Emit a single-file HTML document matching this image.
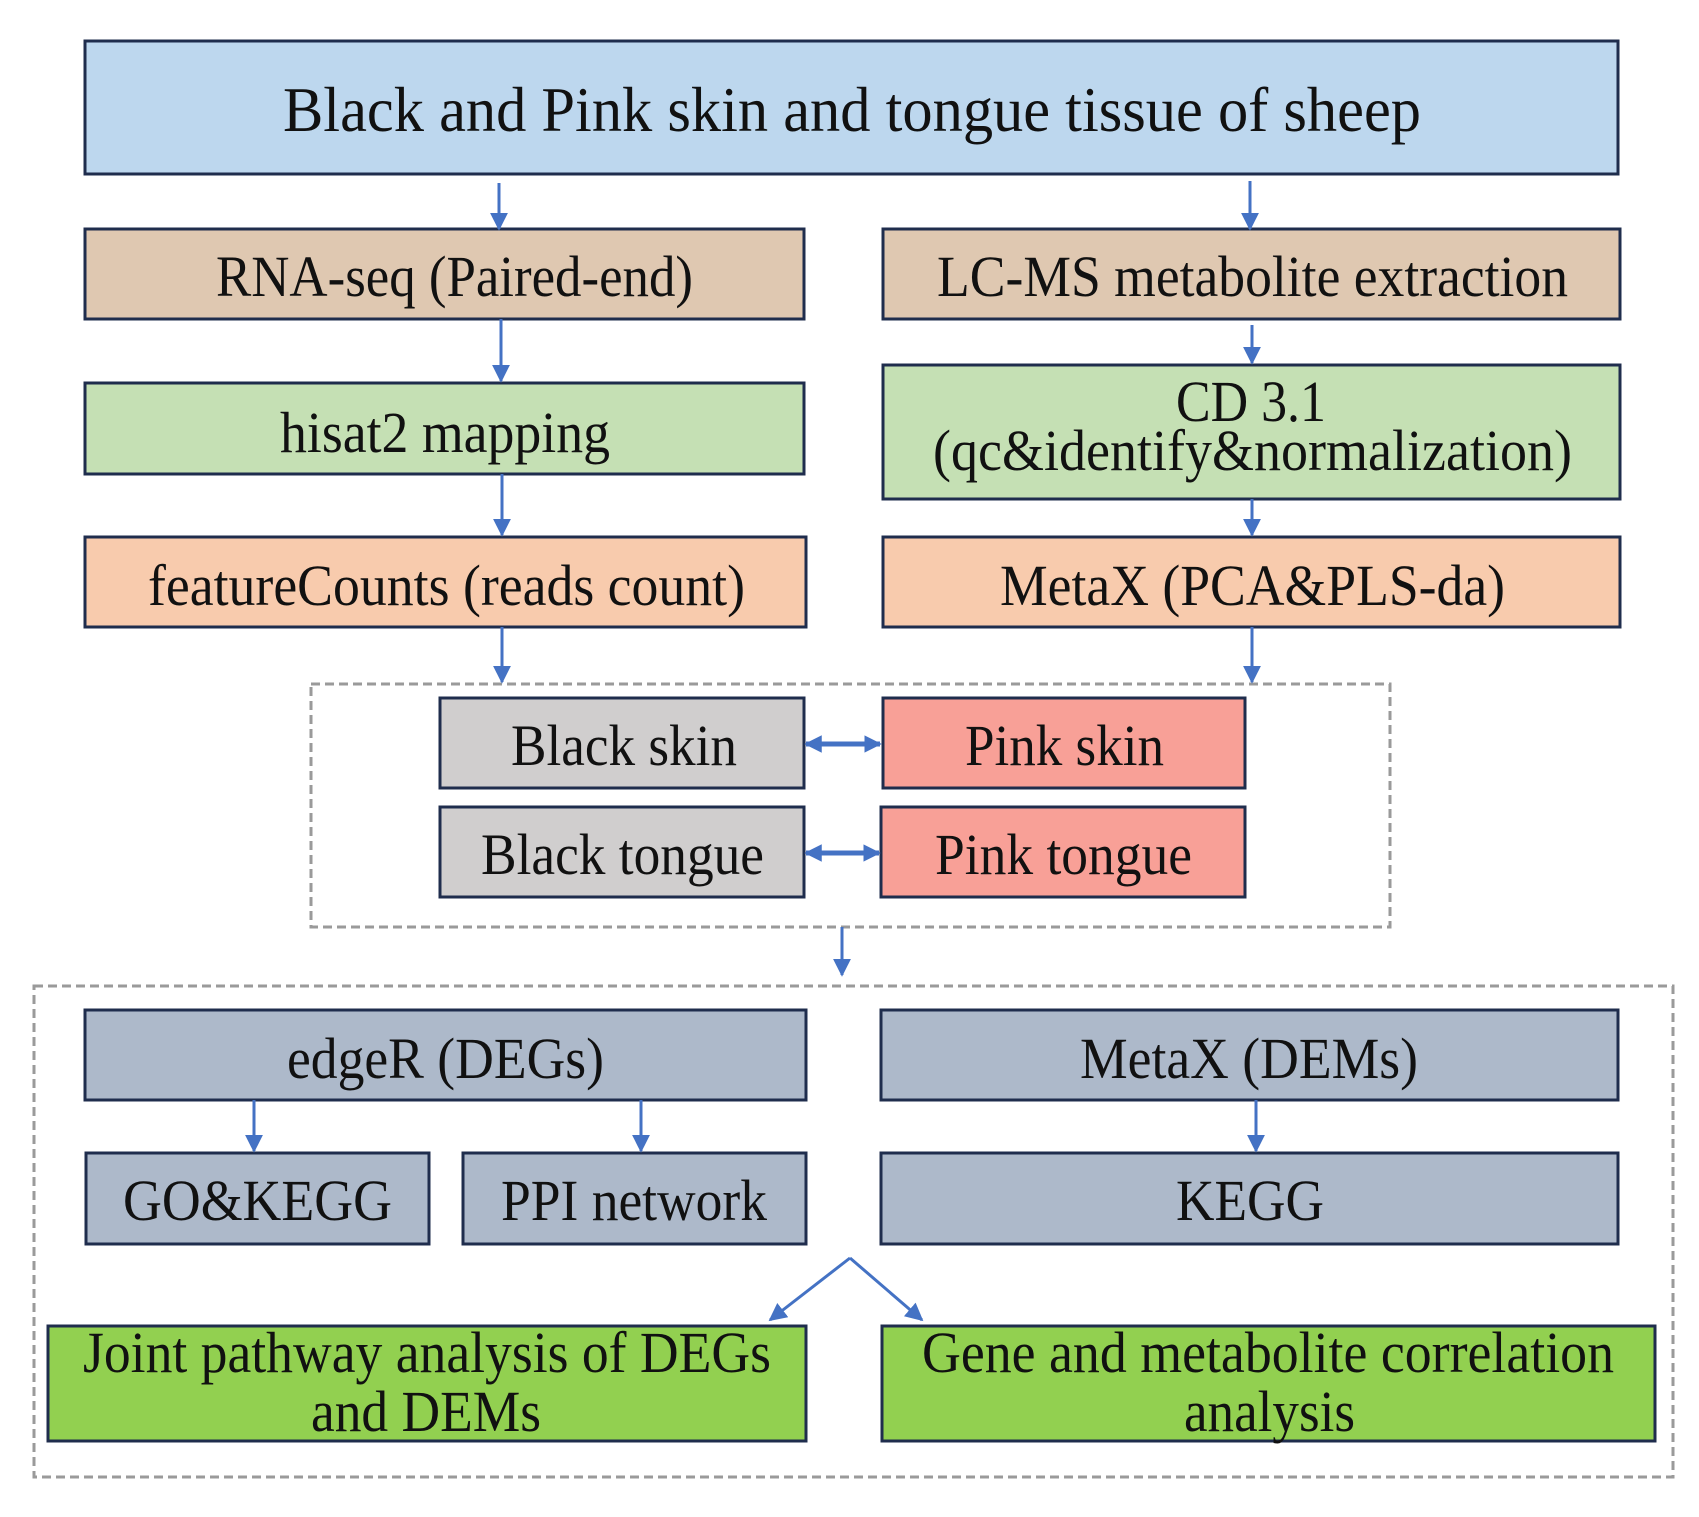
<!DOCTYPE html>
<html><head><meta charset="utf-8"><style>
html,body{margin:0;padding:0;background:#fff;}
svg{display:block;}
</style></head><body>
<svg width="1699" height="1517" viewBox="0 0 1699 1517" xmlns="http://www.w3.org/2000/svg">
<defs>
<marker id="ah" viewBox="0 0 10 10" refX="9" refY="5" markerWidth="6" markerHeight="6" orient="auto-start-reverse" markerUnits="strokeWidth">
<path d="M0,0 L10,5 L0,10 z" fill="#4472c4"/></marker>
<marker id="ah2" viewBox="0 0 10 10" refX="9" refY="5" markerWidth="3.5" markerHeight="4" orient="auto-start-reverse" markerUnits="strokeWidth">
<path d="M0,0 L10,5 L0,10 z" fill="#4472c4"/></marker>
</defs>
<g stroke="#9a9a9a" stroke-width="3" stroke-dasharray="9,5" fill="none">
<rect x="311" y="684" width="1079" height="243"/>
<rect x="34" y="986" width="1639" height="491"/>
</g>
<g stroke="#1f2d4d" stroke-width="3">
<rect x="85" y="41" width="1533" height="133" fill="#bdd7ee"/>
<rect x="85" y="229" width="719" height="90" fill="#dfc8b1"/>
<rect x="883" y="229" width="737" height="90" fill="#dfc8b1"/>
<rect x="85" y="383" width="719" height="91" fill="#c5e0b4"/>
<rect x="883" y="365" width="737" height="134" fill="#c5e0b4"/>
<rect x="85" y="537" width="721" height="90" fill="#f8cbad"/>
<rect x="883" y="537" width="737" height="90" fill="#f8cbad"/>
<rect x="440" y="698" width="364" height="90" fill="#d0cece"/>
<rect x="883" y="698" width="362" height="90" fill="#f8a097"/>
<rect x="440" y="807" width="364" height="90" fill="#d0cece"/>
<rect x="881" y="807" width="364" height="90" fill="#f8a097"/>
<rect x="85" y="1010" width="721" height="90" fill="#adb9ca"/>
<rect x="881" y="1010" width="737" height="90" fill="#adb9ca"/>
<rect x="86" y="1153" width="343" height="91" fill="#adb9ca"/>
<rect x="463" y="1153" width="343" height="91" fill="#adb9ca"/>
<rect x="881" y="1153" width="737" height="91" fill="#adb9ca"/>
<rect x="48" y="1326" width="758" height="115" fill="#92d050"/>
<rect x="882" y="1326" width="773" height="115" fill="#92d050"/>
</g>
<g stroke="#4472c4" stroke-width="3" fill="none" marker-end="url(#ah)">
<line x1="499" y1="183" x2="499" y2="229"/>
<line x1="1250" y1="181" x2="1250" y2="229"/>
<line x1="501" y1="319" x2="501" y2="381"/>
<line x1="1252" y1="325" x2="1252" y2="363"/>
<line x1="502" y1="474" x2="502" y2="535"/>
<line x1="1252" y1="499" x2="1252" y2="535"/>
<line x1="502" y1="627" x2="502" y2="682"/>
<line x1="1252" y1="627" x2="1252" y2="682"/>
<line x1="842" y1="927" x2="842" y2="975"/>
<line x1="254" y1="1100" x2="254" y2="1151"/>
<line x1="641" y1="1100" x2="641" y2="1151"/>
<line x1="1256" y1="1100" x2="1256" y2="1151"/>
<line x1="850" y1="1258" x2="770" y2="1320"/>
<line x1="850" y1="1258" x2="922" y2="1320"/>
</g>
<g stroke="#4472c4" stroke-width="5" fill="none" marker-end="url(#ah2)" marker-start="url(#ah2)">
<line x1="806" y1="744" x2="880" y2="744"/>
<line x1="806" y1="853" x2="879" y2="853"/>
</g>
<g font-family="'Liberation Serif', 'DejaVu Serif', serif" font-size="58" fill="#111">
<text x="283" y="131" font-size="64" textLength="1138" lengthAdjust="spacingAndGlyphs">Black and Pink skin and tongue tissue of sheep</text>
<text x="216" y="296" textLength="477" lengthAdjust="spacingAndGlyphs">RNA-seq (Paired-end)</text>
<text x="937" y="296" textLength="631" lengthAdjust="spacingAndGlyphs">LC-MS metabolite extraction</text>
<text x="280" y="452" textLength="330" lengthAdjust="spacingAndGlyphs">hisat2 mapping</text>
<text x="1176" y="421" textLength="150" lengthAdjust="spacingAndGlyphs">CD 3.1</text>
<text x="933" y="470" textLength="639" lengthAdjust="spacingAndGlyphs">(qc&amp;identify&amp;normalization)</text>
<text x="148" y="605" textLength="597" lengthAdjust="spacingAndGlyphs">featureCounts (reads count)</text>
<text x="1000" y="605" textLength="505" lengthAdjust="spacingAndGlyphs">MetaX (PCA&amp;PLS-da)</text>
<text x="511" y="765" textLength="226" lengthAdjust="spacingAndGlyphs">Black skin</text>
<text x="965" y="765" textLength="199" lengthAdjust="spacingAndGlyphs">Pink skin</text>
<text x="481" y="874" textLength="283" lengthAdjust="spacingAndGlyphs">Black tongue</text>
<text x="935" y="874" textLength="257" lengthAdjust="spacingAndGlyphs">Pink tongue</text>
<text x="287" y="1078" textLength="317" lengthAdjust="spacingAndGlyphs">edgeR (DEGs)</text>
<text x="1080" y="1078" textLength="338" lengthAdjust="spacingAndGlyphs">MetaX (DEMs)</text>
<text x="123" y="1220" textLength="269" lengthAdjust="spacingAndGlyphs">GO&amp;KEGG</text>
<text x="501" y="1220" textLength="266" lengthAdjust="spacingAndGlyphs">PPI network</text>
<text x="1176" y="1220" textLength="148" lengthAdjust="spacingAndGlyphs">KEGG</text>
<text x="83" y="1372" textLength="688" lengthAdjust="spacingAndGlyphs">Joint pathway analysis of DEGs</text>
<text x="311" y="1431" textLength="230" lengthAdjust="spacingAndGlyphs">and DEMs</text>
<text x="922" y="1372" textLength="692" lengthAdjust="spacingAndGlyphs">Gene and metabolite correlation</text>
<text x="1184" y="1431" textLength="171" lengthAdjust="spacingAndGlyphs">analysis</text>
</g>
</svg>
</body></html>
